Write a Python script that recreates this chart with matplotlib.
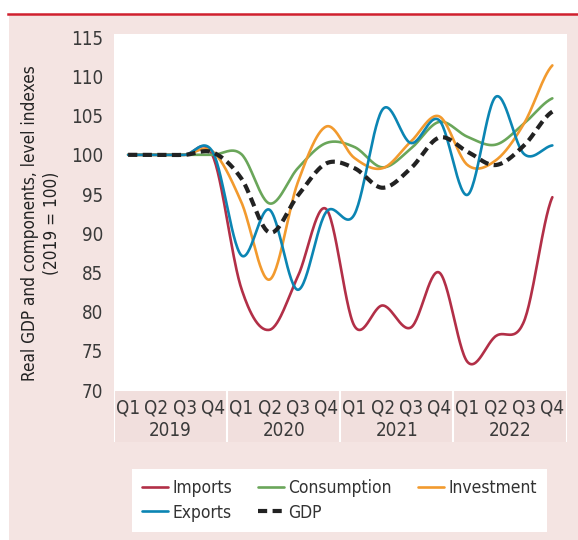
import numpy as np
import matplotlib.pyplot as plt
from matplotlib.lines import Line2D
from matplotlib.patches import Rectangle

plt.rcParams['font.family'] = ['Liberation Sans Narrow', 'DejaVu Sans']
plt.rcParams['font.stretch'] = 'condensed'

# quarterly values, 2019 Q1 .. 2022 Q4
quarters = ['Q1', 'Q2', 'Q3', 'Q4'] * 4
years = ['2019', '2020', '2021', '2022']

imports = [100, 100, 100, 99.8, 83.0, 77.7, 84.5, 93.1, 78.2, 80.8, 78.0, 85.0, 73.6, 76.9, 78.8, 94.6]
consumption = [100, 100, 100, 100, 100.1, 93.8, 98.3, 101.5, 101.0, 98.4, 100.8, 104.2, 102.3, 101.3, 104.0, 107.2]
investment = [100, 100, 100, 100.4, 94.0, 84.1, 96.5, 103.6, 99.6, 98.3, 101.7, 104.9, 98.7, 99.3, 104.0, 111.4]
exports = [100, 100, 100, 100.3, 87.2, 93.0, 82.8, 92.7, 92.4, 105.8, 101.5, 104.4, 94.9, 107.4, 100.1, 101.2]
gdp = [100, 100, 100, 100.3, 97.0, 90.1, 94.8, 98.9, 98.3, 95.8, 98.3, 102.2, 100.4, 98.7, 101.2, 105.5]

BG = '#F4E4E2'


def smooth(y, n=30):
    # catmull-rom curve through the quarterly points (like a smoothed office chart line)
    y = np.asarray(y, dtype=float)
    p = np.concatenate([[y[0]], y, [y[-1]]])
    xs, ys = [], []
    t = np.linspace(0, 1, n, endpoint=False)
    for i in range(len(y) - 1):
        p0, p1, p2, p3 = p[i], p[i + 1], p[i + 2], p[i + 3]
        m1 = (p2 - p0) / 2
        m2 = (p3 - p1) / 2
        h00 = 2 * t**3 - 3 * t**2 + 1
        h10 = t**3 - 2 * t**2 + t
        h01 = -2 * t**3 + 3 * t**2
        h11 = t**3 - t**2
        xs.append(i + t)
        ys.append(h00 * p1 + h10 * m1 + h01 * p2 + h11 * m2)
    xs.append([len(y) - 1])
    ys.append([y[-1]])
    return np.concatenate(xs), np.concatenate(ys)


W, H = 578, 540
fig = plt.figure(figsize=(W / 100, H / 100), dpi=100)
fig.patch.set_facecolor('white')

# pink panel and red rule on top
fig.patches.append(Rectangle((9 / W, 0), 1, (H - 15) / H, transform=fig.transFigure,
                             facecolor=BG, edgecolor='none', zorder=-5))
fig.add_artist(Line2D([8 / W, 1], [(H - 14) / H] * 2, color='#D0202E', lw=1.8))

left, right, top, bottom = 114, 566.5, 34, 391
ax = fig.add_axes([left / W, (H - bottom) / H, (right - left) / W, (bottom - top) / H])
ax.set_facecolor('white')
for s in ax.spines.values():
    s.set_visible(False)

series = [
    (imports, '#B22F47', 'Imports'),
    (consumption, '#6AA65A', 'Consumption'),
    (investment, '#F29A2E', 'Investment'),
    (exports, '#0B85B3', 'Exports'),
]
handles = {}
for vals, col, name in series:
    xs, ys = smooth(vals)
    handles[name], = ax.plot(xs, ys, color=col, lw=1.9, solid_capstyle='round')
xs, ys = smooth(gdp)
handles['GDP'], = ax.plot(xs, ys, color='#222222', lw=3, ls=(0, (2.2, 1.3)))

ax.set_xlim(-0.5, 15.5)
ax.set_ylim(69.9, 115.4)
ax.set_yticks(np.arange(70, 116, 5))
ax.set_xticks([])
ax.tick_params(axis='y', length=0, pad=8, labelsize=13.5, labelcolor='#3a3a3a')
ax.set_ylabel('Real GDP and components, level indexes\n(2019 = 100)', fontsize=12.3,
              color='#222222', linespacing=1.25)
ax.yaxis.set_label_coords((61 - left) / (right - left), (bottom - 223) / (bottom - top))

# category band below the plot
band = fig.add_axes([left / W, (H - 442) / H, (right - left) / W, (442 - bottom) / H])
band.set_facecolor('#F1DFDD')
for s in band.spines.values():
    s.set_visible(False)
band.set_xlim(-0.5, 15.5)
band.set_ylim(0, 1)
band.set_xticks([])
band.set_yticks([])
for b in [-0.5, 3.5, 7.5, 11.5, 15.5]:
    band.axvline(b, color='white', lw=1.5)
for i, q in enumerate(quarters):
    band.text(i, 0.66, q, ha='center', va='center', fontsize=13.5, color='#3a3a3a')
for j, yr in enumerate(years):
    band.text(j * 4 + 1.5, 0.22, yr, ha='center', va='center', fontsize=13.5, color='#3a3a3a')

order = ['Imports', 'Exports', 'Consumption', 'GDP', 'Investment']
leg = fig.legend([handles[k] for k in order], order, ncol=3, loc='center',
                 bbox_to_anchor=(339.5 / W, (H - 500.5) / H), fontsize=12.5,
                 frameon=True, fancybox=False, framealpha=1, handlelength=1.5,
                 handletextpad=0.25, columnspacing=1.5, borderpad=0.6, labelspacing=0.35)
leg.get_frame().set_facecolor('white')
leg.get_frame().set_edgecolor('none')
for t in leg.get_texts():
    t.set_color('#333333')

fig.savefig('out.png', dpi=100, facecolor=fig.get_facecolor())
